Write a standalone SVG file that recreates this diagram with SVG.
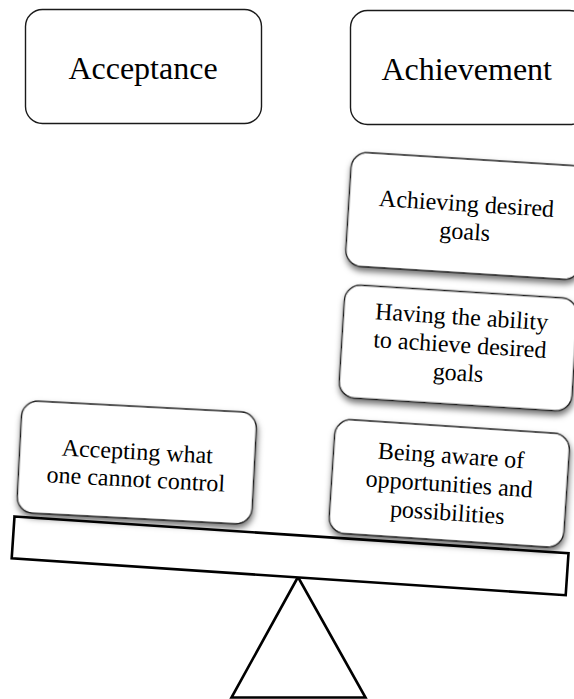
<svg xmlns="http://www.w3.org/2000/svg" width="574" height="699" viewBox="0 0 574 699">
<defs>
<filter id="sh" x="-20%" y="-20%" width="140%" height="150%">
<feDropShadow dx="1" dy="4" stdDeviation="3" flood-color="#000" flood-opacity="0.55"/>
</filter>
<style>
.box{fill:#fff;stroke:#1a1a1a;stroke-width:1.4}
.big{font-family:"Liberation Serif","Times New Roman",serif;font-size:32px;fill:#000;text-anchor:middle}
.t{font-family:"Liberation Serif","Times New Roman",serif;font-size:24px;fill:#000;text-anchor:middle}
.beam{fill:#fff;stroke:#000;stroke-width:2.6;stroke-linejoin:miter}
</style>
</defs>
<rect width="574" height="699" fill="#fff"/>
<g id="fulcrum">
<polygon class="beam" points="298,577 231.5,697.5 365.5,697.5"/>
</g>
<g id="beam">
<polygon class="beam" points="14.5,516.5 568.5,553.3 565.7,595.2 11.7,558.4"/>
</g>
<g id="acceptance">
<rect class="box" x="25.5" y="9.5" width="236" height="114" rx="17"/>
<text class="big" x="143" y="78.5">Acceptance</text>
</g>
<g id="achievement">
<rect class="box" x="350.5" y="10.5" width="236" height="114" rx="17"/>
<text class="big" x="466.7" y="80">Achievement</text>
</g>
<g id="achieving-goals" transform="translate(465.8,216) rotate(3.6)">
<rect class="box" filter="url(#sh)" x="-117.5" y="-57" width="235" height="114" rx="16"/>
<text class="t" x="0" y="-4.5">Achieving desired</text>
<text class="t" x="0" y="23.5">goals</text>
</g>
<g id="having-ability" transform="translate(458.2,348) rotate(3.6)">
<rect class="box" filter="url(#sh)" x="-116.5" y="-56.5" width="233" height="113" rx="16"/>
<text class="t" x="1.5" y="-23.5">Having the ability</text>
<text class="t" x="1.5" y="4.5">to achieve desired</text>
<text class="t" x="1.5" y="32.5">goals</text>
</g>
<g id="accepting" transform="translate(136.8,462.5) rotate(3)">
<rect class="box" filter="url(#sh)" x="-117.5" y="-56" width="235" height="112" rx="16"/>
<text class="t" x="0" y="-3">Accepting what</text>
<text class="t" x="0" y="24.5">one cannot control</text>
</g>
<g id="being-aware" transform="translate(449.3,483.4) rotate(3.8)">
<rect class="box" filter="url(#sh)" x="-117.5" y="-57" width="235" height="114" rx="16"/>
<text class="t" x="0" y="-20">Being aware of</text>
<text class="t" x="0" y="8.5">opportunities and</text>
<text class="t" x="0" y="37">possibilities</text>
</g>
<g id="connectors"/>
</svg>
